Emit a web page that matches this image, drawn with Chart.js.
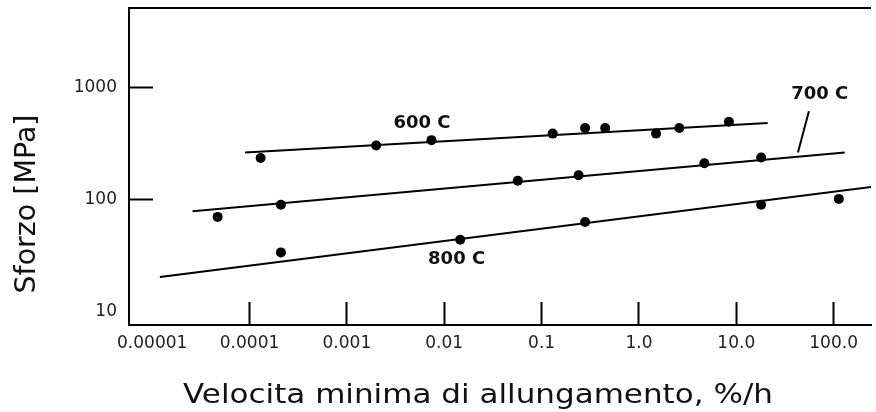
<!DOCTYPE html>
<html>
<head>
<meta charset="utf-8">
<title>Sforzo vs velocita minima di allungamento</title>
<script src="https://cdn.jsdelivr.net/npm/chart.js@4/dist/chart.umd.min.js"></script>
<style>
  html, body { margin: 0; padding: 0; background: #fff; }
  #wrap { width: 876px; height: 412px; }
</style>
</head>
<body>
<div id="wrap"><canvas id="c" width="876" height="412"></canvas></div>
<script>
// Axis ticks (log-log)
const xTickValues = [1e-5, 1e-4, 1e-3, 1e-2, 1e-1, 1, 10, 100];
const xTickLabels = ['0.00001', '0.0001', '0.001', '0.01', '0.1', '1.0', '10.0', '100.0'];
const yTickValues = [10, 100, 1000];
const yTickLabels = ['10', '100', '1000'];

// 600 C measurements: minimum creep rate (%/h) and stress (MPa)
const rate600   = [0.00013, 0.002, 0.0074, 0.13, 0.28, 0.45, 1.5, 2.6, 8.4];
const stress600 = [236, 305, 341, 390, 438, 438, 390, 438, 497];
const fitRate600   = [0.00009, 21];
const fitStress600 = [265, 486];

// 700 C measurements
const rate700   = [0.000047, 0.00021, 0.057, 0.24, 4.7, 18];
const stress700 = [70.5, 90.6, 148, 166, 212, 239];
const fitRate700   = [0.000026, 130];
const fitStress700 = [79, 265];

// 800 C measurements
const rate800   = [0.00021, 0.0146, 0.28, 18, 113];
const stress800 = [34, 44, 63.5, 90.6, 102];
const fitRate800   = [0.000012, 250];
const fitStress800 = [20.5, 131];

// Series labels and the 700 C leader line (data coordinates)
const labelTexts  = ['600 C', '700 C', '800 C'];
const labelRates  = [0.0059, 72, 0.0134];
const labelStress = [486, 873, 29.4];
const leaderRate   = [55.7, 43];
const leaderStress = [618, 265];

const toPoints = (xs, ys) => xs.map((v, i) => ({ x: v, y: ys[i] }));

const markerSet = (xs, ys) => ({
  data: toPoints(xs, ys),
  showLine: false,
  pointRadius: 5,
  pointHoverRadius: 5,
  pointBackgroundColor: '#000',
  pointBorderWidth: 0
});
const fitLine = (xs, ys) => ({
  data: toPoints(xs, ys),
  showLine: true,
  borderColor: '#000',
  borderWidth: 2,
  pointRadius: 0,
  pointHoverRadius: 0
});

// keep the plot frame fixed: no extra padding from tick labels
const noPadding = s => {
  s.paddingTop = 0; s.paddingBottom = 0; s.paddingLeft = 0; s.paddingRight = 0;
};

const decorations = {
  id: 'decorations',
  afterDraw(chart) {
    const { ctx, chartArea: a, scales: { x, y } } = chart;
    ctx.save();
    // top frame line
    ctx.strokeStyle = '#000';
    ctx.lineWidth = 2;
    ctx.beginPath();
    ctx.moveTo(a.left - 1, a.top);
    ctx.lineTo(a.right, a.top);
    ctx.stroke();

    // leader from the 700 C label to its line
    ctx.lineWidth = 2;
    ctx.beginPath();
    ctx.moveTo(x.getPixelForValue(leaderRate[0]), y.getPixelForValue(leaderStress[0]));
    ctx.lineTo(x.getPixelForValue(leaderRate[1]), y.getPixelForValue(leaderStress[1]));
    ctx.stroke();

    // series labels
    ctx.fillStyle = '#111';
    ctx.font = 'bold 18px "DejaVu Sans"';
    ctx.textAlign = 'center';
    ctx.textBaseline = 'middle';
    labelTexts.forEach((t, i) => {
      ctx.fillText(t, x.getPixelForValue(labelRates[i]), y.getPixelForValue(labelStress[i]));
    });

    // x axis title
    ctx.save();
    ctx.font = '26.5px "DejaVu Sans"';
    ctx.textAlign = 'center';
    ctx.textBaseline = 'alphabetic';
    ctx.translate(478, 402.5);
    ctx.scale(1.17, 1);
    ctx.fillText('Velocita minima di allungamento, %/h', 0, 0);
    ctx.restore();

    // y axis title
    ctx.save();
    ctx.font = '28.5px "DejaVu Sans"';
    ctx.textAlign = 'center';
    ctx.textBaseline = 'alphabetic';
    ctx.translate(35, 204);
    ctx.rotate(-Math.PI / 2);
    ctx.fillText('Sforzo [MPa]', 0, 0);
    ctx.restore();

    ctx.restore();
  }
};

const tickFont = { family: '"DejaVu Sans"', size: 17 };

new Chart(document.getElementById('c'), {
  type: 'scatter',
  data: {
    datasets: [
      fitLine(fitRate600, fitStress600),
      fitLine(fitRate700, fitStress700),
      fitLine(fitRate800, fitStress800),
      markerSet(rate600, stress600),
      markerSet(rate700, stress700),
      markerSet(rate800, stress800)
    ]
  },
  options: {
    responsive: false,
    animation: false,
    devicePixelRatio: 1,
    layout: { padding: { top: 8, left: 0, right: 0, bottom: 0 } },
    plugins: { legend: { display: false }, tooltip: { enabled: false } },
    scales: {
      x: {
        type: 'logarithmic',
        position: 'bottom',
        min: 5.78e-6,
        max: 242,
        bounds: 'data',
        afterBuildTicks: s => { s.ticks = xTickValues.map(v => ({ value: v })); },
        afterFit: s => { s.height = 87; noPadding(s); },
        border: { display: true, color: '#000', width: 2 },
        grid: {
          drawOnChartArea: false,
          drawTicks: true,
          tickLength: -23,
          tickWidth: 2,
          tickColor: c => (c.tick && c.tick.value === 1e-5) ? 'rgba(0,0,0,0)' : '#000'
        },
        ticks: {
          autoSkip: false,
          maxRotation: 0,
          padding: 31,
          color: '#222',
          font: tickFont,
          callback: v => xTickLabels[xTickValues.indexOf(v)] ?? ''
        },
        title: { display: false }
      },
      y: {
        type: 'logarithmic',
        min: 7.65,
        max: 5150,
        bounds: 'data',
        afterBuildTicks: s => { s.ticks = yTickValues.map(v => ({ value: v })); },
        afterFit: s => { s.width = 129; noPadding(s); },
        border: { display: true, color: '#000', width: 2 },
        grid: {
          drawOnChartArea: false,
          drawTicks: true,
          tickLength: -24,
          tickWidth: 2,
          tickColor: c => (c.tick && c.tick.value === 10) ? 'rgba(0,0,0,0)' : '#000'
        },
        ticks: {
          autoSkip: false,
          padding: 36,
          color: '#222',
          font: tickFont,
          callback: v => yTickLabels[yTickValues.indexOf(v)] ?? ''
        },
        title: { display: false }
      }
    }
  },
  plugins: [decorations]
});
</script>
</body>
</html>
